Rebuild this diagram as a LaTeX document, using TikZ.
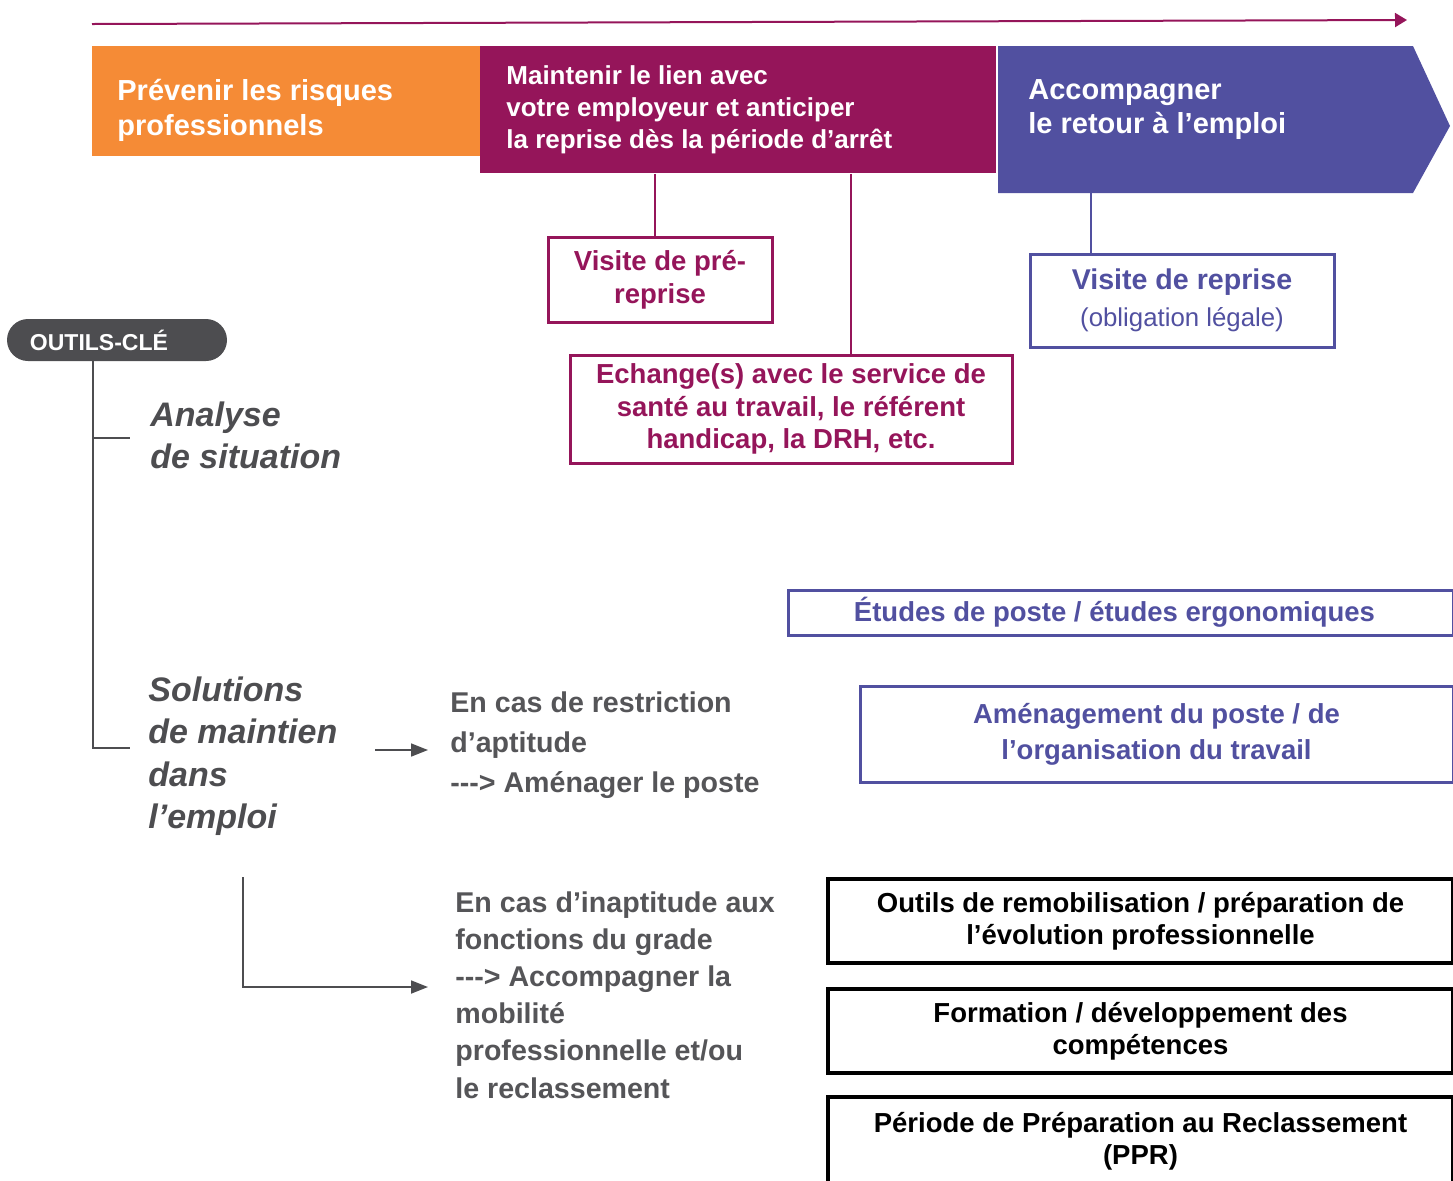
\documentclass[tikz,border=0pt]{standalone}
\usepackage{fontspec}
\setmainfont{Liberation Sans}
\usetikzlibrary{arrows.meta, positioning}
\definecolor{riskorange}{RGB}{245,139,54}
\definecolor{linkpurple}{RGB}{149,21,90}
\definecolor{returnblue}{RGB}{81,80,160}
\definecolor{keygray}{RGB}{77,77,80}
\definecolor{textgray}{RGB}{85,85,88}

\begin{document}
\begin{tikzpicture}[x=0.5pt, y=-0.5pt,
    every node/.style={inner sep=0pt},
    band/.style={rectangle, anchor=north west},
    bandtext/.style={anchor=north west, align=left, text=white, font=\bfseries\fontsize{14.5}{17.25}\selectfont},
    purplebox/.style={rectangle, draw=linkpurple, line width=1.5pt, text=linkpurple, align=center, font=\bfseries\fontsize{13.75}{16.25}\selectfont},
    bluebox/.style={rectangle, draw=returnblue, line width=1.5pt, text=returnblue, align=center, font=\bfseries\fontsize{13.75}{18}\selectfont},
    blackbox/.style={rectangle, draw=black, line width=1.75pt, text=black, align=center, font=\bfseries\fontsize{13.75}{16}\selectfont, minimum width=312.5pt, minimum height=42pt},
    pill/.style={rectangle, rounded corners=10.5pt, fill=keygray, text=white, font=\bfseries\fontsize{11.5}{13}\selectfont, inner xsep=11.5pt, text width=87pt, align=left, minimum height=21pt},
    heading/.style={anchor=north west, align=left, text=keygray, font=\bfseries\itshape\fontsize{17}{21.25}\selectfont},
    case/.style={anchor=north west, align=left, text=textgray, font=\bfseries\fontsize{14.3}{20}\selectfont},
    tree/.style={draw=keygray, line width=1pt},
    treearrow/.style={draw=keygray, line width=0.85pt, -{Triangle[length=8.5pt,width=6.5pt]}},
    purpleline/.style={draw=linkpurple, line width=1pt},
    blueline/.style={draw=returnblue, line width=1pt},
    timeline/.style={draw=linkpurple, line width=1pt, -{Triangle[length=6pt,width=7pt]}}
]
\useasboundingbox (0,0) rectangle (1453,1180);

% Timeline on top
\coordinate (tstart) at (92,24);
\coordinate (tend) at (1407,20);
\draw[timeline] (tstart) -- (tend);

% Phase bands
\node[band, fill=riskorange, minimum width=194pt, minimum height=55pt] (prevenir) at (92,46) {};
\node[band, fill=linkpurple, minimum width=258pt, minimum height=63.5pt] (maintien) at (480,46) {};
\fill[returnblue] (998,46) -- (1413,46) -- (1450,126) -- (1413,193) -- (998,193) -- cycle;
\coordinate (accbottom) at (1091,193);

\node[bandtext] (prevenirtxt) at (117,79) {Prévenir les risques\\professionnels};
\node[bandtext, font=\bfseries\fontsize{13}{16}\selectfont] (maintientxt) at (506,65) {Maintenir le lien avec\\votre employeur et anticiper\\la reprise dès la période d’arrêt};
\node[bandtext, font=\bfseries\fontsize{14.5}{17}\selectfont] (accomptxt) at (1028,79) {Accompagner\\le retour à l’emploi};

% Visits and exchanges
\node[purplebox, minimum width=112pt, minimum height=42.5pt] (visitepre) at (660,280) {Visite de pré-\\reprise};
\node[purplebox, minimum width=221pt, minimum height=54pt] (echange) at (791,409) {Echange(s) avec le service de\\santé au travail, le référent\\handicap, la DRH, etc.};
\node[bluebox, minimum width=152pt, minimum height=46.5pt, font=\bfseries\fontsize{14.3}{18.5}\selectfont] (visiterep) at (1182,300.5) {Visite de reprise\\{\mdseries\fontsize{12.9}{18.5}\selectfont(obligation légale)}};

\draw[purpleline] ([xshift=-2.5pt]visitepre.north |- maintien.south) -- ([xshift=-2.5pt]visitepre.north);
\draw[purpleline] ([xshift=30pt]echange.north |- maintien.south) -- ([xshift=30pt]echange.north);
\draw[blueline] (accbottom) -- (accbottom |- visiterep.north);

% Key tools tree
\node[pill] (outils) at (117,340) {OUTILS-CLÉ};
\node[heading] (analyse) at (150,401) {Analyse\\de situation};
\node[heading] (solutions) at (148,676) {Solutions\\de maintien\\dans\\l’emploi};

\coordinate (trunk) at ([xshift=-12pt]outils.south);
\coordinate (analysebr) at (130,438);
\coordinate (solbr) at (130,748);
\draw[tree] (trunk) |- (solbr);
\draw[tree] (trunk |- analysebr) -- (analysebr);

% Cases
\node[case] (restriction) at (450,691) {En cas de restriction\\d’aptitude\\-\kern0pt-\kern0pt-> Aménager le poste};
\node[case, font=\bfseries\fontsize{14.3}{18.6}\selectfont] (inaptitude) at (455,891) {En cas d’inaptitude aux\\fonctions du grade\\-\kern0pt-\kern0pt-> Accompagner la\\mobilité\\professionnelle et/ou\\le reclassement};

\coordinate (arr1s) at (375,750);
\coordinate (arr1e) at (428,750);
\coordinate (arr2s) at (243,877);
\coordinate (arr2e) at (428,987);
\draw[treearrow] (arr1s) -- (arr1e);
\draw[treearrow] (arr2s) |- (arr2e);

% Tools boxes on the right
\node[bluebox, minimum width=332.5pt, minimum height=22.5pt] (etudes) at (1120.5,612.5) {Études de poste / études ergonomiques\hspace*{6pt}};
\node[bluebox, minimum width=296.5pt, minimum height=48pt] (amenag) at (1156.5,734) {Aménagement du poste / de\\l’organisation du travail};
\node[blackbox] (remob) at (1140.5,921) {Outils de remobilisation / préparation de\\l’évolution professionnelle};
\node[blackbox] (formation) at (1140.5,1031) {Formation / développement des\\compétences};
\node[blackbox, minimum height=44pt] (ppr) at (1140.5,1141) {Période de Préparation au Reclassement\\(PPR)};

\end{tikzpicture}
\end{document}
